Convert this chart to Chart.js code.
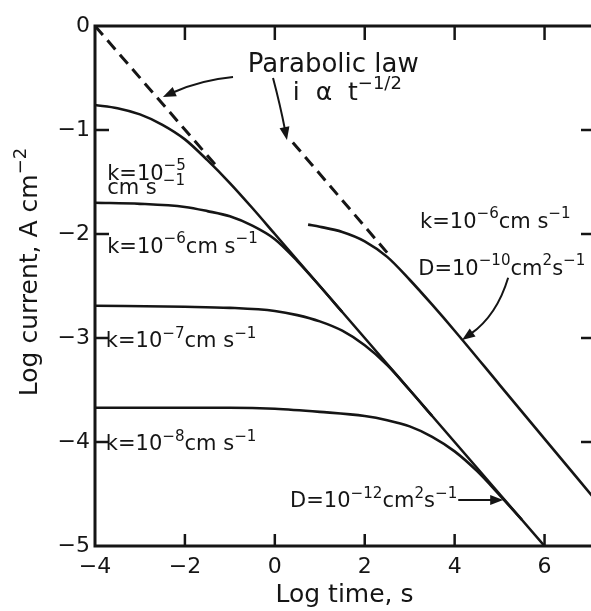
<!DOCTYPE html>
<html><head><meta charset="utf-8">
<script src="https://cdn.jsdelivr.net/npm/chart.js@4.4.1/dist/chart.umd.min.js"></script>
<style>html,body{margin:0;padding:0;background:#fff;overflow:hidden;}#wrap{width:600px;height:611px;}</style>
</head><body><div id="wrap"><canvas id="c" width="600" height="611"></canvas></div>
<script>
const FONT = '"DejaVu Sans", "Liberation Sans", sans-serif';
const INK = '#151515';

// Axes: log time (s) and log current (A cm^-2)
const xTickValues = [-4, -2, 0, 2, 4, 6];
const yTickValues = [0, -1, -2, -3, -4, -5];

// k = 1e-5 cm/s, D = 1e-12 (continues on the parabolic-law line)
const k5Time    = [-4, -3.5, -3, -2.5, -2, -1.5, -1, -0.5, 0, 1, 2, 3, 4, 5, 6];
const k5Current = [-0.76, -0.79, -0.85, -0.95, -1.09, -1.29, -1.51, -1.75, -2.0, -2.5, -3.0, -3.5, -4.0, -4.5, -5.0];
// k = 1e-6, D = 1e-12
const k6Time    = [-4, -3, -2, -1.5, -1, -0.5, 0, 0.5, 1, 1.5];
const k6Current = [-1.70, -1.71, -1.74, -1.78, -1.83, -1.92, -2.05, -2.26, -2.50, -2.75];
// k = 1e-7, D = 1e-12
const k7Time    = [-4, -2, -1, 0, 0.5, 1, 1.5, 2, 2.5, 3, 3.5];
const k7Current = [-2.69, -2.70, -2.71, -2.74, -2.78, -2.84, -2.93, -3.07, -3.26, -3.50, -3.75];
// k = 1e-8, D = 1e-12
const k8Time    = [-4, -1, 0, 1, 2, 2.5, 3, 3.5, 4, 4.5, 5, 5.5];
const k8Current = [-3.67, -3.67, -3.68, -3.71, -3.75, -3.79, -3.85, -3.95, -4.09, -4.28, -4.51, -4.75];
// k = 1e-6, D = 1e-10
const k6D10Time    = [0.74, 1, 1.5, 2, 2.5, 3, 3.5, 4, 5, 6, 7.1];
const k6D10Current = [-1.91, -1.93, -1.98, -2.07, -2.22, -2.44, -2.68, -2.93, -3.45, -3.97, -4.54];
// parabolic law i ∝ t^-1/2 (dashed extensions)
const para12Time    = [-4, -1.25];
const para12Current = [0, -1.37];
const para10Time    = [0.40, 2.50];
const para10Current = [-1.12, -2.18];

const pts = (xs, ys) => xs.map((v, i) => ({x: v, y: ys[i]}));
const solid = (xs, ys) => ({data: pts(xs, ys), borderColor: INK, borderWidth: 2.6, pointRadius: 0, cubicInterpolationMode: 'monotone', fill: false});
const dashed = (xs, ys) => ({data: pts(xs, ys), borderColor: INK, borderWidth: 3, borderDash: [12, 7], pointRadius: 0, fill: false});

// annotation texts (parts with s:1 are superscripts, g = extra gap before)
const labelTexts = [
  [{t: 'Parabolic law'}],
  [{t: 'i  α  t'}, {t: '−1/2', s: 1}],
  [{t: 'k=10'}, {t: '−5', s: 1}],
  [{t: 'cm s'}, {t: '−1', s: 1, g: 6}],
  [{t: 'k=10'}, {t: '−6', s: 1}, {t: 'cm s'}, {t: '−1', s: 1}],
  [{t: 'k=10'}, {t: '−7', s: 1}, {t: 'cm s'}, {t: '−1', s: 1}],
  [{t: 'k=10'}, {t: '−8', s: 1}, {t: 'cm s'}, {t: '−1', s: 1}],
  [{t: 'k=10'}, {t: '−6', s: 1}, {t: 'cm s'}, {t: '−1', s: 1}],
  [{t: 'D=10'}, {t: '−10', s: 1}, {t: 'cm'}, {t: '2', s: 1}, {t: 's'}, {t: '−1', s: 1}],
  [{t: 'D=10'}, {t: '−12', s: 1}, {t: 'cm'}, {t: '2', s: 1}, {t: 's'}, {t: '−1', s: 1}]
];
// anchors in data units (left, baseline) and font size
const labelAnchors = [
  [-0.60, -0.44, 26], [0.40, -0.71, 25], [-3.73, -1.48, 21], [-3.73, -1.62, 21],
  [-3.73, -2.18, 21], [-3.76, -3.09, 21], [-3.76, -4.08, 21], [3.23, -1.94, 21],
  [3.19, -2.39, 21], [0.34, -4.625, 21]
];
// arrows: start, control, end (data units)
const arrowPaths = [
  [[-0.93, -0.49], [-1.66, -0.52], [-2.49, -0.683]],
  [[-0.04, -0.50], [0.12, -0.76], [0.27, -1.096]],
  [[5.19, -2.42], [4.94, -2.78], [4.165, -3.02]],
  [[4.08, -4.558], [4.6, -4.558], [5.08, -4.558]]
];

function drawRich(ctx, x, y, parts, size) {
  let cx = x;
  ctx.textBaseline = 'alphabetic'; ctx.textAlign = 'left';
  for (const p of parts) {
    cx += p.g || 0;
    if (p.s) {
      ctx.font = (size * 0.72).toFixed(1) + 'px ' + FONT;
      ctx.fillText(p.t, cx, y - size * 0.45);
    } else {
      ctx.font = size + 'px ' + FONT;
      ctx.fillText(p.t, cx, y);
    }
    cx += ctx.measureText(p.t).width;
  }
  return cx - x;
}

const annot = {
  id: 'annot',
  afterDatasetsDraw(chart) {
    const {ctx, chartArea: a, scales: {x, y}} = chart;
    const X = v => x.getPixelForValue(v), Y = v => y.getPixelForValue(v);
    const seg = (x1, y1, x2, y2) => { ctx.beginPath(); ctx.moveTo(x1, y1); ctx.lineTo(x2, y2); ctx.stroke(); };
    ctx.save();
    ctx.strokeStyle = INK; ctx.fillStyle = INK; ctx.lineCap = 'butt';
    ctx.lineWidth = 3;
    ctx.strokeRect(a.left, a.top, a.right - a.left, a.bottom - a.top);
    ctx.lineWidth = 2.5;
    x.ticks.forEach(t => {
      if (t.value <= x.min || t.value >= x.max) return;
      const px = X(t.value);
      seg(px, a.bottom, px, a.bottom - 12); seg(px, a.top, px, a.top + 14);
    });
    y.ticks.forEach(t => {
      if (t.value <= y.min || t.value >= y.max) return;
      const py = Y(t.value);
      seg(a.left, py, a.left + 14, py); seg(a.right, py, a.right - 13, py);
    });
    labelTexts.forEach((parts, i) => {
      const [lx, ly, sz] = labelAnchors[i];
      drawRich(ctx, X(lx), Y(ly), parts, sz);
    });
    ctx.lineWidth = 2;
    arrowPaths.forEach(([s, c, e]) => {
      const sx = X(s[0]), sy = Y(s[1]), cx = X(c[0]), cy = Y(c[1]), ex = X(e[0]), ey = Y(e[1]);
      const ang = Math.atan2(ey - cy, ex - cx);
      const L = 13, W = 5;
      const bx = ex - L * Math.cos(ang), by = ey - L * Math.sin(ang);
      ctx.beginPath(); ctx.moveTo(sx, sy); ctx.quadraticCurveTo(cx, cy, bx + 2 * Math.cos(ang), by + 2 * Math.sin(ang)); ctx.stroke();
      ctx.beginPath();
      ctx.moveTo(ex, ey);
      ctx.lineTo(bx + W * Math.sin(ang), by - W * Math.cos(ang));
      ctx.lineTo(bx - W * Math.sin(ang), by + W * Math.cos(ang));
      ctx.closePath(); ctx.fill();
    });
    // y axis title
    ctx.save();
    ctx.translate(28, 0); ctx.rotate(-Math.PI / 2);
    const main = 'Log current, A cm';
    const tparts = [{t: main}, {t: '−2', s: 1}];
    ctx.font = '25px ' + FONT; const w1 = ctx.measureText(main).width;
    ctx.font = (25 * 0.72).toFixed(1) + 'px ' + FONT; const w2 = ctx.measureText('−2').width;
    const total = w1 + w2;
    const cyMid = (a.top + a.bottom) / 2 - 14;
    drawRich(ctx, -(cyMid + total / 2), 9, tparts, 25);
    ctx.restore();
    ctx.restore();
  }
};

const fmt = v => String(v).replace('-', '−');

new Chart(document.getElementById('c'), {
  type: 'line',
  data: {
    datasets: [
      solid(k5Time, k5Current),
      solid(k6Time, k6Current),
      solid(k7Time, k7Current),
      solid(k8Time, k8Current),
      solid(k6D10Time, k6D10Current),
      dashed(para12Time, para12Current),
      dashed(para10Time, para10Current)
    ]
  },
  options: {
    responsive: false,
    animation: false,
    devicePixelRatio: 1,
    layout: {padding: {top: 26, right: 6, left: 0, bottom: 0}},
    plugins: {legend: {display: false}, tooltip: {enabled: false}},
    scales: {
      x: {
        type: 'linear', min: -4, max: 7.1,
        afterFit: s => { s.height = 65; },
        grid: {display: false, drawTicks: false},
        border: {display: false},
        ticks: {stepSize: 2, includeBounds: false, padding: 8, color: INK, font: {family: FONT, size: 22},
          callback: v => xTickValues.includes(v) ? fmt(v) : ''},
        title: {display: true, text: 'Log time, s', color: INK, font: {family: FONT, size: 25}, padding: {top: 0, bottom: 1}}
      },
      y: {
        type: 'linear', min: -5, max: 0,
        afterFit: s => { s.width = 95; },
        grid: {display: false, drawTicks: false},
        border: {display: false},
        ticks: {stepSize: 1, padding: 5, color: INK, font: {family: FONT, size: 22},
          callback: v => yTickValues.includes(v) ? fmt(v) : ''}
      }
    }
  },
  plugins: [annot]
});
</script>
</body></html>
